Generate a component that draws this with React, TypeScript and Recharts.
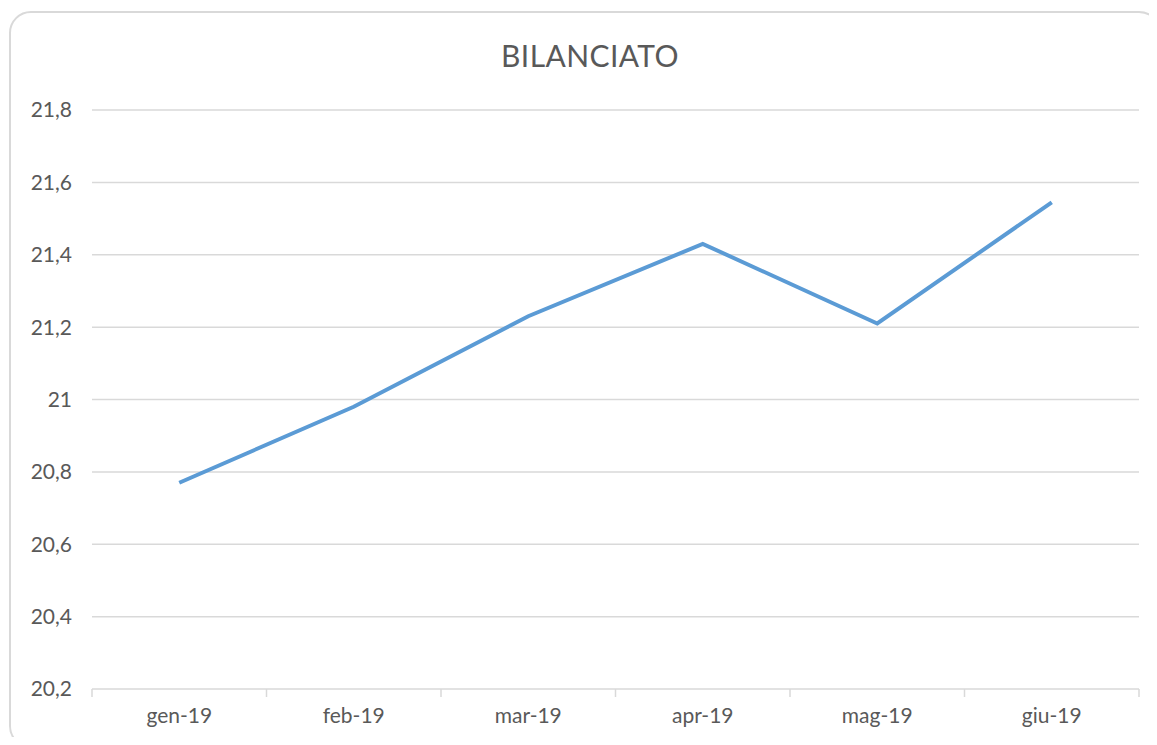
import { CartesianGrid, Line, LineChart, XAxis, YAxis } from "recharts";

const months = ["gen-19", "feb-19", "mar-19", "apr-19", "mag-19", "giu-19"];
const values = [20.77, 20.98, 21.23, 21.43, 21.21, 21.545];
const yTicks = [20.2, 20.4, 20.6, 20.8, 21, 21.2, 21.4, 21.6, 21.8];

const data = months.map((m, i) => ({ month: m, value: values[i] }));

const font = "Lato, 'Open Sans', sans-serif";
const textColor = "#595959";
const gridColor = "#d9d9d9";

const W = 1141;
const H = 729;
const yAxisW = 84;
const rightM = 10;
const band = (W - yAxisW - rightM) / months.length;

const fmt = (v: number) => String(v).replace(".", ",");

// month label plus the small separator ticks between categories
const MonthTick = (props: any) => {
    const { x, y, payload, index } = props;
    const left = x - band / 2;
    const right = x + band / 2;
    return (
        <g>
            <line x1={left} y1={y} x2={left} y2={y + 8} stroke={gridColor} strokeWidth={1.5} />
            {index === months.length - 1 && (
                <line x1={right} y1={y} x2={right} y2={y + 8} stroke={gridColor} strokeWidth={1.5} />
            )}
            <text
                x={x}
                y={y + 19}
                dy="0.71em"
                textAnchor="middle"
                fill={textColor}
                fontSize={21}
                fontFamily={font}
            >
                {payload.value}
            </text>
        </g>
    );
};

const App = () => {
    return (
        <div style={{ position: "relative", width: W, height: H, overflow: "hidden" }}>
            <div
                style={{
                    position: "absolute",
                    left: 1,
                    top: 3,
                    width: 1152,
                    height: 737,
                    border: `2px solid ${gridColor}`,
                    borderRadius: 22,
                    boxSizing: "border-box",
                }}
            />
            <div
                style={{
                    position: "absolute",
                    left: 0,
                    width: 1164,
                    top: 29,
                    textAlign: "center",
                    fontFamily: font,
                    fontSize: 30,
                    letterSpacing: 0.4,
                    color: textColor,
                    lineHeight: "36px",
                }}
            >
                BILANCIATO
            </div>
            <div style={{ position: "absolute", left: 0, top: 0 }}>
                <LineChart
                    width={W}
                    height={H}
                    data={data}
                    margin={{ top: 102, right: rightM, left: 0, bottom: 0 }}
                >
                    <CartesianGrid vertical={false} stroke={gridColor} strokeWidth={1.5} />
                    <XAxis
                        dataKey="month"
                        scale="band"
                        height={48}
                        axisLine={false}
                        tickLine={false}
                        tickSize={0}
                        tickMargin={0}
                        interval={0}
                        tick={<MonthTick />}
                    />
                    <YAxis
                        width={yAxisW}
                        domain={[20.2, 21.8]}
                        ticks={yTicks}
                        tickFormatter={fmt}
                        axisLine={false}
                        tickLine={false}
                        tickSize={0}
                        tickMargin={20}
                        tick={{ fill: textColor, fontSize: 21, fontFamily: font }}
                    />
                    <Line
                        type="linear"
                        dataKey="value"
                        stroke="#5b9bd5"
                        strokeWidth={4}
                        dot={false}
                        isAnimationActive={false}
                    />
                </LineChart>
            </div>
        </div>
    );
};

export default App;
